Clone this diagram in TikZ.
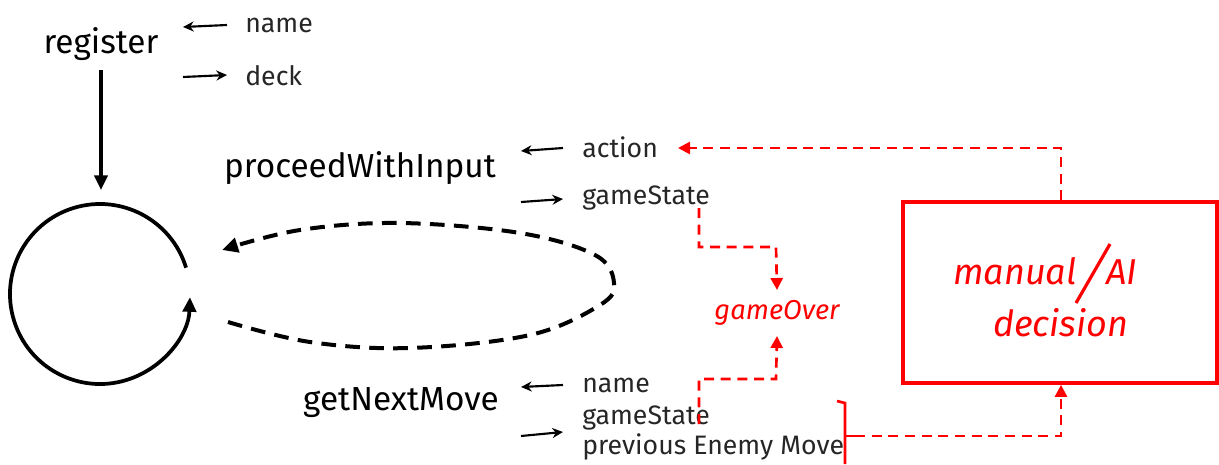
\documentclass[tikz,border=0pt]{standalone}
\usepackage{fontspec}
\setmainfont{Fira Sans}
\usetikzlibrary{arrows.meta,calc}
\definecolor{rd}{RGB}{255,0,0}
\tikzset{
  big/.style={font=\fontsize{25}{28}\selectfont, inner sep=0pt},
  small/.style={font=\fontsize{20}{22}\selectfont, inner sep=0pt, anchor=west, text=black!85},
  redit/.style={font=\fontsize{20.5}{22}\selectfont\itshape, text=rd, inner sep=0pt},
  bigred/.style={font=\fontsize{27}{30}\selectfont\itshape, text=rd, inner sep=0pt, anchor=base west},
  sarrow/.style={line width=1.6pt, -{Stealth[length=8pt,width=7.5pt]}},
  reddash/.style={draw=rd, line width=2pt, dash pattern=on 7.5pt off 5pt},
  redtip/.style={-{Triangle[length=9pt,width=9pt]}, rd},
}
\begin{document}
\begin{tikzpicture}[x=0.75pt,y=-0.75pt]
\useasboundingbox (0,0) rectangle (1219,464);
% register
\node[big] (reg) at (101,44) {register};
\node[small] (rname) at (245,25) {name};
\node[small] (rdeck) at (245,76) {deck};
\draw[sarrow] (227,25) -- (183,27);
\draw[sarrow] (183,77) -- (227,75);
\coordinate (regtop) at (101,70);
\coordinate (circtop) at (101,190);
\draw[line width=2.3pt, -{Triangle[length=11pt,width=10pt]}] (regtop) -- (circtop);
% circle loop
\draw[line width=2.8pt, -{Triangle[length=11pt,width=10pt]}] (100,294) ++(-17:90) arc[start angle=-17, end angle=-358, radius=90];
% dashed loop
\draw[line width=3pt, dash pattern=on 11pt off 7pt, -{Triangle[length=12pt,width=11pt]}]
  plot[smooth, tension=0.6] coordinates {(228,322) (310,342) (410,348) (530,335) (600,305) (614,283) (595,255) (520,233) (400,223) (300,230) (222,250)};
% proceedWithInput
\node[big] (pwi) at (360,168) {proceedWithInput};
\node[small] (act) at (582,147) {action};
\node[small] (gs1) at (582,198) {gameState};
\draw[sarrow] (563,148) -- (521,151);
\draw[sarrow] (521,202) -- (563,199);
% getNextMove
\node[big] (gnm) at (401,403) {getNextMove};
\node[small] (gname) at (582,385) {name};
\node[small, align=left] (gs2) at (582,433) {gameState\\previous Enemy Move};
\draw[sarrow] (563,385) -- (521,387);
\draw[sarrow] (521,436) -- (563,432);
% gameOver
\node[redit] (go) at (777,313) {gameOver};
\draw[reddash, redtip] (699,208) -- (699,247) -- (776,247) -- (go.north |- 0,290);
\draw[reddash, redtip] (699,424) -- (699,379) -- (776,379) -- (go.south |- 0,336);
% decision box
\node[draw=rd, line width=3pt, minimum width=235.5pt, minimum height=135.5pt, inner sep=0pt] (box) at (1060,292.5) {};
\node[bigred] (man) at (953,284) {manual};
\node[bigred] (ai) at (1106,284) {AI};
\node[bigred] (dec) at (993,336) {decision};
\draw[rd, line width=2.4pt] (1110,244) -- (1076,303);
\coordinate (acttip) at (678,148);
\draw[reddash, redtip] (box.north -| 1061,0) -- (1061,148) -- (acttip);
% bracket
\draw[rd, line width=2pt] (837,401) -- (845,403) -- (845,464);
\draw[rd, line width=2pt] (845,436) -- (855,436);
\draw[reddash, redtip] (855,436) -- (1061,436) -- (box.south -| 1061,0);
\end{tikzpicture}
\end{document}
